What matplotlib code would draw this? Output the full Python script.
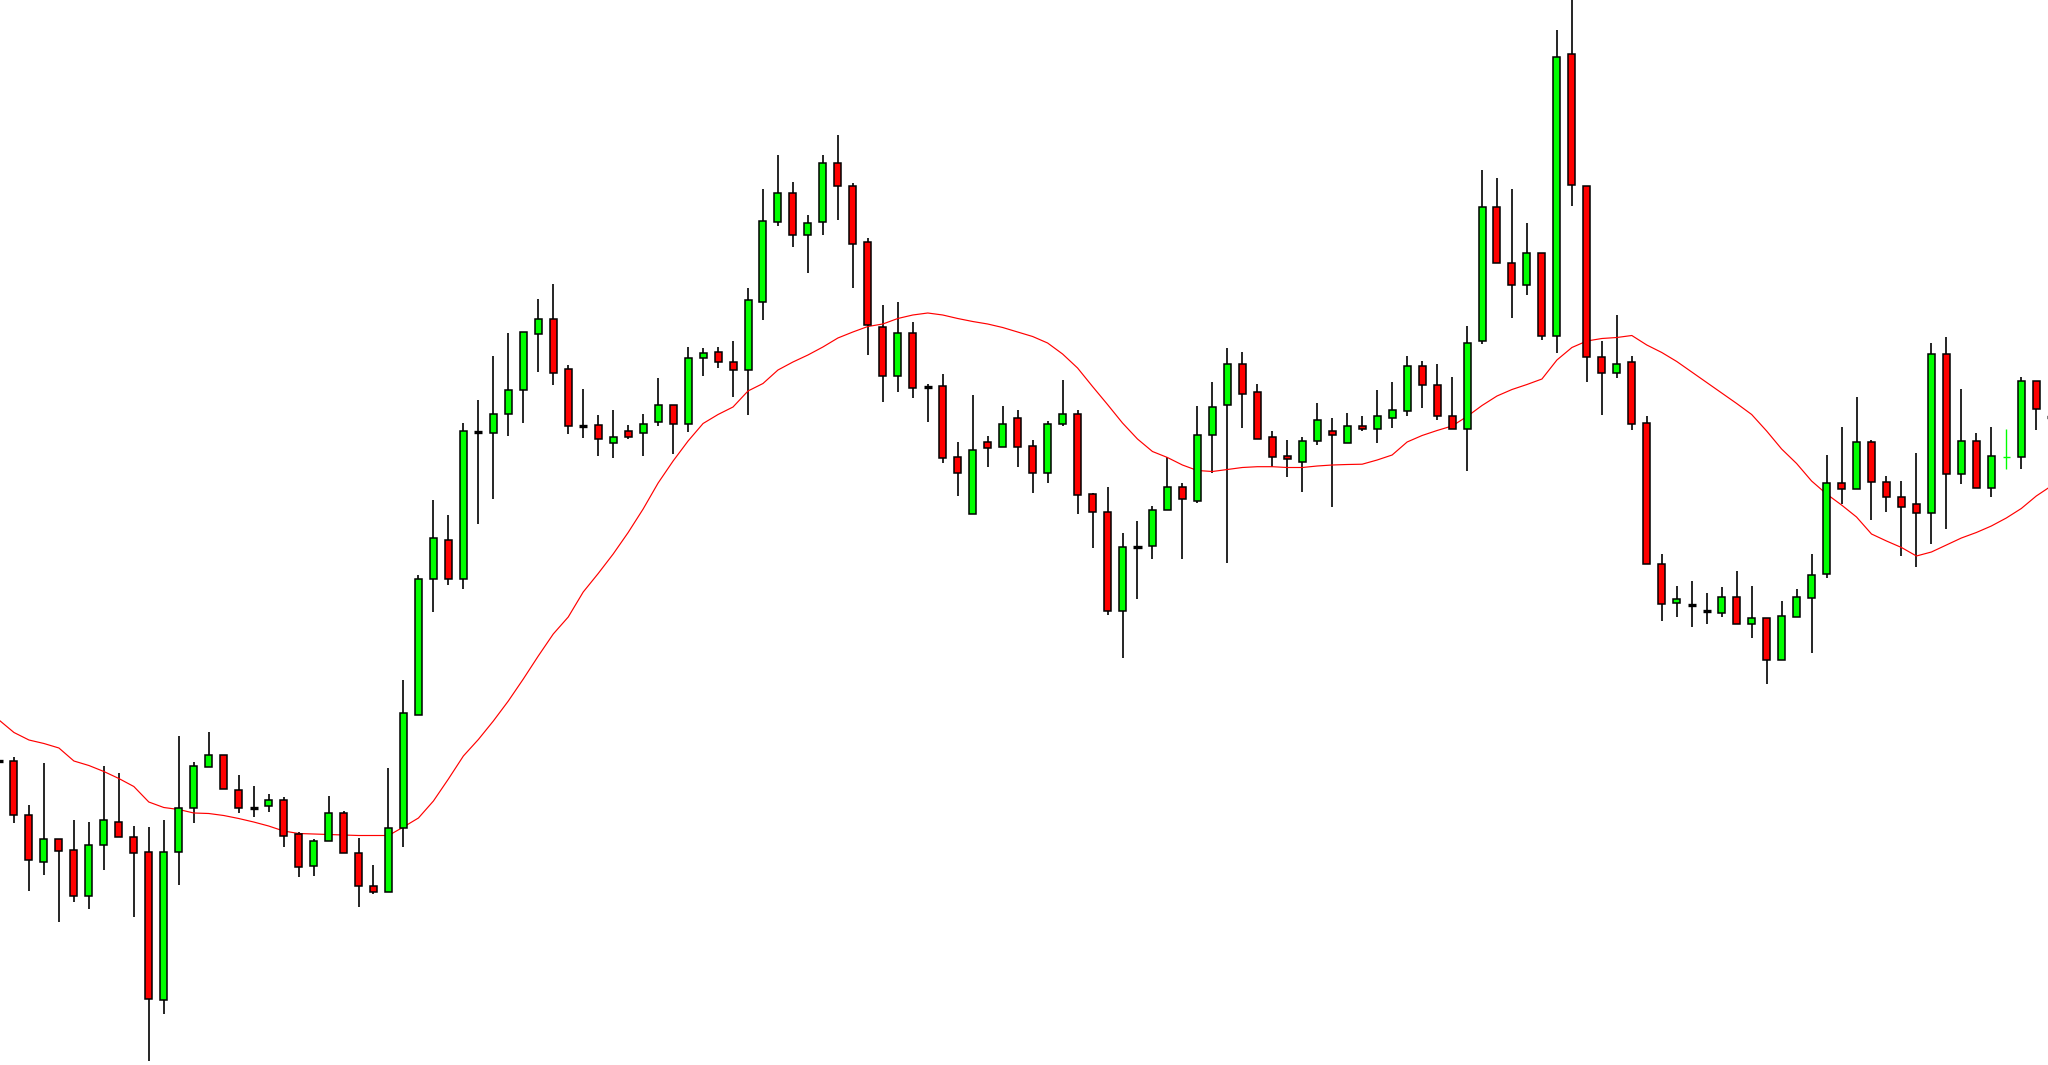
import matplotlib
matplotlib.use("Agg")
import matplotlib.pyplot as plt
from matplotlib.patches import Rectangle
import numpy as np

# Candle values, measured as levels from the top of the chart (axis is inverted)
open_ = [761, 761, 815, 862, 839.3, 850.3, 895.7, 845, 822.3, 837,
         852.3, 1000.3, 852.3, 807.7, 766.7, 754.7, 790.3, 807.7, 806, 799.7,
         834.3, 865.7, 841.3, 813.3, 852.7, 886, 891.7, 828.2, 715.3, 579.1,
         539.7, 579.1, 432.1, 433.3, 414.1, 390, 334, 319, 369, 426,
         425.3, 442.7, 431, 433.3, 422.3, 405, 424, 358.3, 352.3, 361.7,
         369.7, 302.3, 221.7, 193.3, 235, 221.7, 163.3, 185.7, 242, 326.7,
         375.7, 333.3, 386.7, 386, 457, 513.7, 442.3, 446.7, 418, 446,
         472.7, 424.3, 414.3, 494, 511.7, 611.3, 546.7, 546, 510, 487.3,
         501.3, 435, 405.3, 363.7, 392, 436.7, 455.7, 461.7, 440.9, 431.3,
         442.8, 425.6, 429.4, 417.9, 410.6, 365.9, 384.6, 416.4, 429.4, 341.4,
         206.7, 262.9, 285.1, 253.4, 336, 53.6, 186.4, 356.7, 373.1, 361.7,
         423.3, 564, 603.3, 605, 611.3, 612.7, 597.3, 624, 618.3, 660,
         616.7, 597.7, 574, 483.3, 489.3, 442.3, 481.7, 496.7, 504, 513.3,
         354.3, 474, 440.7, 487.7, 457.3, 457.3, 380.7, 417.3]
high = [759, 756.7, 805, 763.3, 839.3, 820, 822, 765.7, 773.3, 825.7,
        827.3, 820, 735.7, 762, 732, 754.7, 775, 786, 794, 797.3,
        831.7, 839, 795.7, 810.7, 838.3, 865, 767.7, 679.7, 574.5, 499.9,
        515.2, 423.3, 400.4, 355.6, 333.4, 331.7, 299.3, 284.3, 365.2, 388.9,
        415.3, 410, 425, 414, 377.7, 405, 346.7, 348.3, 346.7, 340.7,
        288.3, 189, 155, 181.7, 215.3, 155, 135, 183.3, 237.7, 305,
        301.7, 322.3, 384.3, 374.3, 441.7, 395.3, 436, 406.3, 410, 440,
        421.3, 380, 410, 492.7, 486.7, 533.3, 520.7, 505.7, 456.7, 483.3,
        406, 381.7, 348.3, 352.3, 384, 430.7, 440, 436.7, 402.6, 417.9,
        413.3, 416, 389.6, 381.9, 355.9, 360.9, 363.6, 377, 326.1, 170.3,
        178, 189.4, 222.7, 253.4, 29.9, -5, 186.4, 340.6, 314.6, 355.9,
        416, 554, 585.7, 580.7, 593.3, 587.3, 571, 585.7, 618.3, 601,
        589.3, 554, 455, 426.7, 396.7, 440, 475.7, 481, 453.3, 342.7,
        337.3, 389.3, 432.7, 426.7, 429, 376.7, 380.7, 414]
low = [763, 823.3, 890.7, 875, 922.3, 901.7, 909, 870, 837.3, 916.7,
       1060.7, 1014, 885, 823.3, 766.7, 789, 813.3, 817.3, 811.7, 847.3,
       877.3, 875.7, 841.3, 852.7, 907.3, 894.3, 891.7, 847.4, 715.3, 611.6,
       585.2, 589, 523.6, 499.1, 435.6, 422.6, 371.7, 385, 434, 437.5,
       456, 458.3, 439, 456, 426, 454.3, 432.3, 375.7, 368.3, 396.7,
       415, 320, 226, 246.7, 272.7, 235, 220, 287.7, 355, 401.7,
       392.3, 397.7, 422.3, 463.3, 495.7, 513.7, 467.3, 446.7, 467.3, 493.3,
       482.7, 426, 514.3, 548.3, 615, 658.3, 598.7, 559.3, 510, 559.3,
       503.3, 472.7, 563.3, 428.3, 438.7, 466.7, 476.7, 491.7, 444.7, 507.1,
       442.8, 431.3, 442.8, 427.5, 416, 407.6, 419.8, 429.4, 470.7, 343.7,
       262.9, 317.6, 295.4, 339.8, 352.8, 205.5, 381.6, 415.2, 377.7, 429.8,
       564.3, 620.7, 616.7, 626.7, 624.3, 616.7, 624, 637.7, 684.3, 660,
       616.7, 652.7, 577.7, 504.3, 489.3, 520, 512.3, 555.7, 566.7, 544.3,
       529.3, 484, 487.7, 497.3, 469.3, 469.3, 430, 420]
close = [761, 815, 860, 839, 850.7, 895.7, 844.7, 820.3, 837.3, 852.7,
         998.7, 852.3, 807.7, 766, 755, 789, 807.7, 807.7, 799.7, 835.7,
         867.3, 841, 813.3, 852.7, 886, 892.3, 828, 713.4, 579.1, 537.8,
         579.1, 431, 432.1, 414.1, 390, 331.7, 319, 373.3, 426, 426,
         439, 436.7, 436.7, 423.7, 405, 424, 357.7, 352.7, 362.3, 369.7,
         300, 221.3, 193.3, 235, 223.3, 163.3, 186, 244.3, 325, 375.7,
         333.3, 388.3, 386.7, 457.7, 472.7, 449.7, 448.3, 423.7, 446.7, 472.7,
         423.7, 414.3, 495, 512, 611.3, 547.3, 546.7, 509.7, 487.3, 499,
         435, 407, 363.7, 394, 438.7, 457.3, 459.3, 440.7, 419.8, 434.7,
         425.6, 429.4, 416, 410.3, 365.9, 384.6, 416, 429.4, 343.3, 206.7,
         262.9, 285.1, 253.4, 336, 56.6, 184.5, 356.7, 373.1, 364.3, 424,
         564.3, 603.7, 599.3, 605, 611.3, 597.3, 624, 618.3, 660, 616,
         597.3, 575, 483.3, 489.3, 442.3, 481.7, 496.7, 506.7, 513.3, 354.3,
         474, 440.7, 487.7, 455.7, 457.3, 380.7, 409, 417.3]
moving_avg = [720, 732.5, 740, 743.5, 748, 761, 765.5, 771.5, 778.5, 786.5,
              802, 807.5, 809.5, 813, 813.5, 815.5, 818.5, 822, 826, 831,
              833.5, 834, 834.5, 835, 835.5, 835.5, 835.5, 827, 818, 801,
              779, 756, 739.5, 721, 701, 679, 656, 634, 617, 592,
              573.5, 554, 532.5, 509, 483, 461, 441, 423.5, 414.5, 407,
              391, 383.5, 370, 362, 355, 347, 338, 332, 326.5, 324,
              318.5, 315, 313, 315, 318.5, 321.5, 324, 327.5, 332, 336.5,
              343, 354, 368, 386.5, 404.5, 423, 439, 451.5, 457.5, 465,
              470.5, 471.5, 469.5, 467.5, 466.7, 466.7, 467.5, 467.5, 466, 465,
              464.5, 464.2, 460, 455, 442, 435.5, 430.5, 426, 416.5, 405.5,
              396, 389.5, 384.5, 379, 360, 347.5, 341, 338.5, 337.5, 335.5,
              345, 352.5, 361.5, 372, 382.5, 393, 403.5, 414.5, 431, 449,
              463.5, 481, 494, 505, 517, 534, 541, 547.5, 556, 552,
              545, 538, 532.5, 526, 518, 508.5, 496, 486]
live_candle = 134  # drawn as a thin lime cross without outline

UP = "#00FF00"
DOWN = "#FF0000"
EDGE = "#000000"

fig = plt.figure(figsize=(20.48, 10.65), dpi=100)
ax = fig.add_axes([0, 0, 1, 1])
ax.set_facecolor("white")
fig.patch.set_facecolor("white")

px = 14.98  # pixels per candle
body_w = 7.0 / px
half = body_w / 2

idx = np.arange(len(open_))
for i in idx:
    o, h, l, c = open_[i], high[i], low[i], close[i]
    if i == live_candle:
        ax.plot([i, i], [h, l], color=UP, lw=1.0, zorder=3, solid_capstyle="butt")
        ax.plot([i - half, i + half], [o, o], color=UP, lw=1.0, zorder=3, solid_capstyle="butt")
        continue
    ax.plot([i, i], [h, l], color=EDGE, lw=1.2, zorder=2, solid_capstyle="butt")
    if abs(o - c) < 0.5:
        ax.plot([i - half - 0.04, i + half + 0.04], [o, o], color=EDGE, lw=2.4,
                zorder=4, solid_capstyle="butt")
    else:
        col = UP if c < o else DOWN
        top = min(o, c)
        ax.add_patch(Rectangle((i - half, top), body_w, abs(o - c),
                               facecolor=col, edgecolor=EDGE, lw=1.1, zorder=4))

ax.plot(idx, moving_avg, color="#FF0000", lw=0.85, zorder=3)

ax.set_xlim(1 / px, 2049 / px)
ax.set_ylim(1065, 0)
ax.axis("off")

fig.savefig("out.png", dpi=100, facecolor="white")
